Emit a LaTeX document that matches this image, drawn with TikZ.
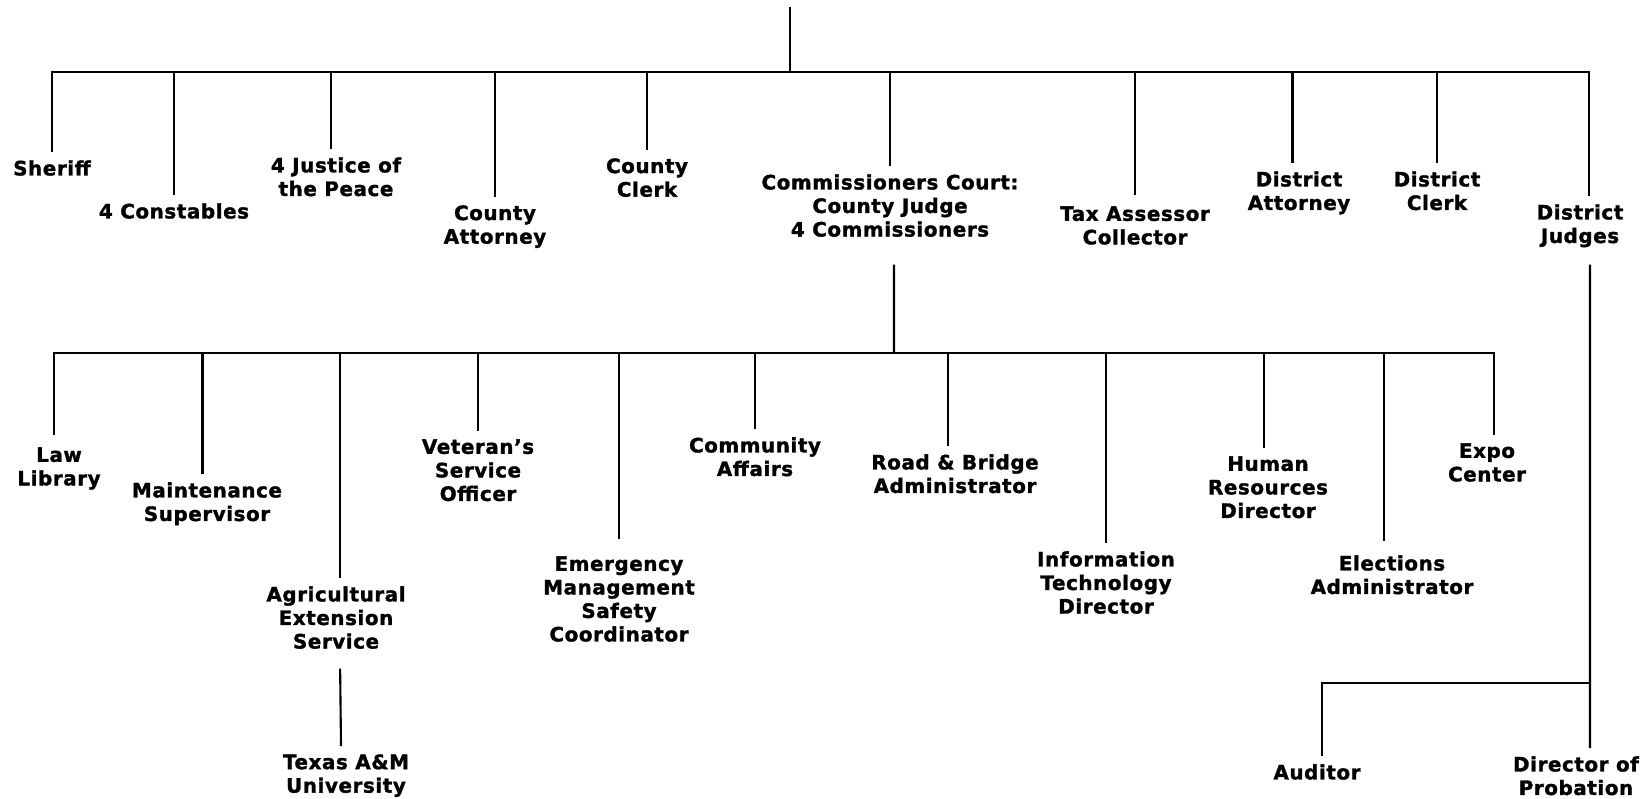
\documentclass[tikz,border=0pt]{standalone}
\usepackage{fontspec}
\newfontfamily\orgfont[FakeBold=1.5,LetterSpace=3]{DejaVu Sans}
\tikzset{
  post/.style={align=center, anchor=north, inner sep=0.16cm,
    font=\orgfont\bfseries\fontsize{11.3}{13.4}\selectfont},
  link/.style={line width=1.2pt},
}
\begin{document}
\begin{tikzpicture}[x=0.02cm,y=-0.02cm]
\useasboundingbox (0,0) rectangle (1648,798);

% first level
\coordinate (root) at (790,7);
\coordinate (bus1) at (790,72);
\node[post] (sheriff) at (52,152) {Sheriff};
\node[post] (const) at (174,195) {4 Constables};
\node[post] (jp) at (336,149) {4 Justice of\\the Peace};
\node[post] (catty) at (495,197) {County\\Attorney};
\node[post] (cclerk) at (647,150) {County\\Clerk};
\node[post] (court) at (890,166) {Commissioners Court:\\County Judge\\4 Commissioners};
\node[post] (tax) at (1135,198) {Tax Assessor\\Collector};
\node[post] (datty) at (1299,163) {District\\Attorney};
\node[post] (dclerk) at (1437,163) {District\\Clerk};
\node[post] (djudge) at (1580,196) {District\\Judges};

\draw[link] (root) -- (bus1);
\draw[link] (sheriff.north) |- ([xshift=0.18cm]djudge.north |- bus1) -- ([xshift=0.18cm]djudge.north);
\draw[link] (const.north) -- (const.north |- bus1);
\draw[link] ([xshift=-0.1cm]jp.north) -- ([xshift=-0.1cm]jp.north |- bus1);
\draw[link] (catty.north) -- (catty.north |- bus1);
\draw[link] (cclerk.north) -- (cclerk.north |- bus1);
\draw[link] (court.north) -- (court.north |- bus1);
\draw[link, shorten <=0.06cm] (tax.north) -- (tax.north |- bus1);
\draw[link] ([xshift=-0.13cm]datty.north) -- ([xshift=-0.13cm]datty.north |- bus1);
\draw[link] (dclerk.north) -- (dclerk.north |- bus1);

% second level
\coordinate (bus2) at (894,353);
\node[post] (law) at (59,439) {Law\\Library};
\node[post] (maint) at (207,474) {Maintenance\\Supervisor};
\node[post] (agri) at (336,578) {Agricultural\\Extension\\Service};
\node[post] (texas) at (346,746) {Texas A\&M\\University};
\node[post] (vet) at (478,431) {Veteran’s\\Service\\Officer};
\node[post] (emerg) at (619,548) {Emergency\\Management\\Safety\\Coordinator};
\node[post] (comm) at (755,429) {Community\\Affairs};
\node[post] (road) at (955,446) {Road \& Bridge\\Administrator};
\node[post] (info) at (1106,543) {Information\\Technology\\Director};
\node[post] (hr) at (1268,448) {Human\\Resources\\Director};
\node[post] (elect) at (1392,547) {Elections\\Administrator};
\node[post] (expo) at (1487,435) {Expo\\Center};

\draw[link, shorten <=0.39cm] ([xshift=0.08cm]court.south) -- (bus2);
\draw[link, shorten <=0.08cm] ([xshift=-0.1cm]law.north) |- ([xshift=0.14cm]expo.north |- bus2) -- ([xshift=0.14cm]expo.north);
\draw[link] ([xshift=-0.09cm]maint.north) -- ([xshift=-0.09cm]maint.north |- bus2);
\draw[link] ([xshift=0.08cm]agri.north) -- ([xshift=0.08cm]agri.north |- bus2);
\draw[link] (vet.north) -- (vet.north |- bus2);
\draw[link, shorten <=0.18cm] (emerg.north) -- (emerg.north |- bus2);
\draw[link] (comm.north) -- (comm.north |- bus2);
\draw[link] ([xshift=-0.14cm]road.north) -- ([xshift=-0.14cm]road.north |- bus2);
\draw[link] (info.north) -- (info.north |- bus2);
\draw[link] ([xshift=-0.08cm]hr.north) -- ([xshift=-0.08cm]hr.north |- bus2);
\draw[link, shorten <=0.12cm] ([xshift=-0.16cm]elect.north) -- ([xshift=-0.16cm]elect.north |- bus2);
\draw[link, shorten <=0.23cm] ([xshift=0.08cm]agri.south) -- ([xshift=-0.1cm]texas.north);

% under the district judges
\node[post] (auditor) at (1317,756) {Auditor};
\node[post] (prob) at (1576,748) {Director of\\Probation};
\coordinate (split) at (1590,683);
\draw[link, shorten <=0.18cm] ([xshift=0.2cm]djudge.south) -- ([xshift=0.28cm]prob.north);
\draw[link] (split) -| ([xshift=0.1cm]auditor.north);
\end{tikzpicture}
\end{document}
